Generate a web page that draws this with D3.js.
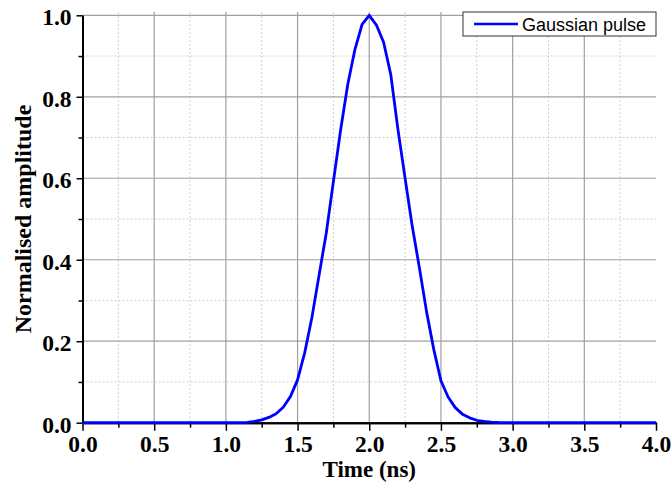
<!DOCTYPE html>
<html>
<head>
<meta charset="utf-8">
<script src="https://cdn.jsdelivr.net/npm/d3@7"></script>
<style>
  html, body { margin: 0; padding: 0; background: #fff; }
  svg { display: block; }
</style>
</head>
<body>
<svg id="chart" width="671" height="485"></svg>
<script>
// ---- data ----
const timeNs = [0.00, 1.00, 1.05, 1.10, 1.15, 1.20, 1.25, 1.30, 1.35, 1.40, 1.45,
  1.50, 1.55, 1.60, 1.65, 1.70, 1.75, 1.80, 1.85, 1.90, 1.95,
  2.00, 2.05, 2.10, 2.15, 2.20, 2.25, 2.30, 2.35, 2.40, 2.45,
  2.50, 2.55, 2.60, 2.65, 2.70, 2.75, 2.80, 2.85, 2.90, 2.95, 3.00, 4.00];
const amplitude = [0.000, 0.000, 0.000, 0.0003, 0.001, 0.003, 0.007, 0.013, 0.022, 0.038, 0.064,
  0.105, 0.172, 0.258, 0.362, 0.465, 0.592, 0.718, 0.830, 0.916, 0.978,
  1.000, 0.976, 0.934, 0.855, 0.720, 0.600, 0.482, 0.380, 0.272, 0.180,
  0.103, 0.063, 0.037, 0.021, 0.012, 0.006, 0.003, 0.0015, 0.0005, 0.000, 0.000, 0.000];
const xMajorTicks = [0.0, 0.5, 1.0, 1.5, 2.0, 2.5, 3.0, 3.5, 4.0];
const xMinorTicks = [0.25, 0.75, 1.25, 1.75, 2.25, 2.75, 3.25, 3.75];
const yMajorTicks = [0.0, 0.2, 0.4, 0.6, 0.8, 1.0];
const yMinorTicks = [0.1, 0.3, 0.5, 0.7, 0.9];
const seriesName = "Gaussian pulse";
const xTitle = "Time (ns)";
const yTitle = "Normalised amplitude";

// ---- layout ----
const L = 82.5, R = 656, T = 15.3, B = 422.7;
const svg = d3.select("#chart");
const x = d3.scaleLinear().domain([0, 4]).range([L, R]);
const y = d3.scaleLinear().domain([0, 1]).range([B, T]);

const serif = "'Liberation Serif','Times New Roman',Times,serif";
const sans = "'Liberation Sans',Arial,Helvetica,sans-serif";

// minor grid
const grid = svg.append("g");
grid.selectAll(".vmin").data(xMinorTicks).join("line")
  .attr("x1", d => x(d)).attr("x2", d => x(d)).attr("y1", 12).attr("y2", B)
  .attr("stroke", "#cfcfcf").attr("stroke-width", 1).attr("stroke-dasharray", "2,2");
grid.selectAll(".hmin").data(yMinorTicks).join("line")
  .attr("x1", L).attr("x2", R).attr("y1", d => y(d)).attr("y2", d => y(d))
  .attr("stroke", "#cfcfcf").attr("stroke-width", 1).attr("stroke-dasharray", "2,2");
// major grid
grid.selectAll(".vmaj").data(xMajorTicks.filter(d => d > 0 && d < 4)).join("line")
  .attr("x1", d => x(d)).attr("x2", d => x(d)).attr("y1", 12).attr("y2", B)
  .attr("stroke", "#a0a0a0").attr("stroke-width", 1.2);
grid.selectAll(".hmaj").data(yMajorTicks.filter(d => d > 0)).join("line")
  .attr("x1", L).attr("x2", R).attr("y1", d => y(d)).attr("y2", d => y(d))
  .attr("stroke", "#a0a0a0").attr("stroke-width", 1.2);

// axes
const xAxis = svg.append("g").attr("transform", `translate(0,${B})`)
  .call(d3.axisBottom(x).tickValues(xMajorTicks).tickSize(8).tickSizeOuter(0).tickPadding(5)
    .tickFormat(d3.format(".1f")));
const xAxisMinor = svg.append("g").attr("transform", `translate(0,${B})`)
  .call(d3.axisBottom(x).tickValues(xMinorTicks).tickSize(5).tickSizeOuter(0).tickFormat(""));
const yAxis = svg.append("g").attr("transform", `translate(${L},0)`)
  .call(d3.axisLeft(y).tickValues(yMajorTicks).tickSize(6).tickSizeOuter(0).tickPadding(5)
    .tickFormat(d3.format(".1f")));
const yAxisMinor = svg.append("g").attr("transform", `translate(${L},0)`)
  .call(d3.axisLeft(y).tickValues(yMinorTicks).tickSize(4).tickSizeOuter(0).tickFormat(""));

[xAxis, xAxisMinor, yAxis, yAxisMinor].forEach(g => {
  g.select(".domain").attr("stroke", "#000").attr("stroke-width", 2);
  g.selectAll(".tick line").attr("stroke", "#000").attr("stroke-width", 1.5);
  g.selectAll("text").attr("font-family", serif).attr("font-weight", "bold")
    .attr("font-size", 23.5).attr("fill", "#000");
});
yAxis.selectAll("text").attr("dy", "0.4em");

// line
const line = d3.line().x((d, i) => x(timeNs[i])).y(d => y(d));
svg.append("path").datum(amplitude)
  .attr("d", line).attr("fill", "none")
  .attr("stroke", "#0000ff").attr("stroke-width", 2.8).attr("stroke-linejoin", "round");

// axis titles
svg.append("text").attr("x", x(2)).attr("y", 477)
  .attr("text-anchor", "middle").attr("font-family", serif).attr("font-weight", "bold")
  .attr("font-size", 23).text(xTitle);
svg.append("text").attr("transform", `translate(31,${(T + B) / 2}) rotate(-90)`)
  .attr("text-anchor", "middle").attr("font-family", serif).attr("font-weight", "bold")
  .attr("font-size", 24).text(yTitle);

// legend
const lg = svg.append("g");
lg.append("rect").attr("x", 463).attr("y", 12).attr("width", 193).attr("height", 24)
  .attr("fill", "#fff").attr("stroke", "#333").attr("stroke-width", 1);
lg.append("line").attr("x1", 474).attr("x2", 518).attr("y1", 24).attr("y2", 24)
  .attr("stroke", "#0000ff").attr("stroke-width", 2.6);
lg.append("text").attr("x", 522).attr("y", 31)
  .attr("font-family", sans).attr("font-size", 18).attr("fill", "#000").text(seriesName);
</script>
</body>
</html>
